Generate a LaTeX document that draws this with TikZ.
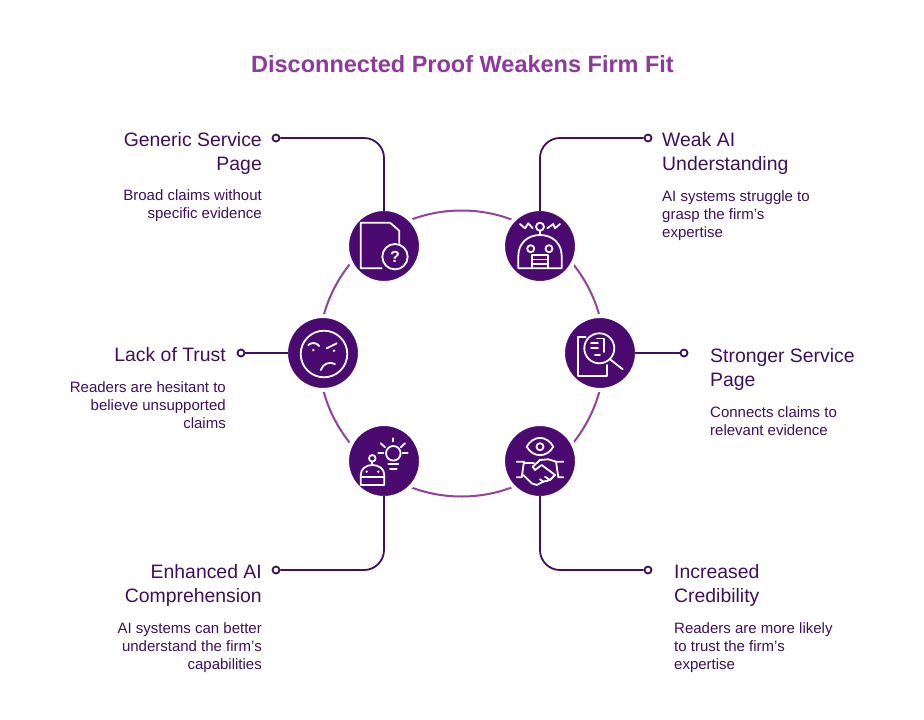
\documentclass[tikz,border=0pt]{standalone}
\usepackage{fontspec}
\setmainfont{Liberation Sans}
\usetikzlibrary{positioning}

\definecolor{titlepurple}{HTML}{8E3A9D}
\definecolor{ringpurple}{HTML}{8E4497}
\definecolor{hubpurple}{HTML}{4A0A70}
\definecolor{inkpurple}{HTML}{3F0F5C}

\tikzset{
    hub/.style={circle, fill=hubpurple, draw=white, line width=4pt, minimum size=74pt, inner sep=0pt, outer sep=0pt},
    enddot/.style={circle, fill=white, draw=inkpurple, line width=1.8pt, minimum size=7pt, inner sep=0pt},
    link/.style={draw=inkpurple, line width=1.8pt, rounded corners=20pt, shorten <=-2pt},
    head/.style={text=inkpurple, inner sep=0pt, font=\fontsize{19.4}{24}\selectfont},
    body/.style={text=inkpurple, inner sep=0pt, font=\fontsize{15}{18}\selectfont},
    glyph/.style={draw=white, line width=1.8pt, line cap=round, line join=round},
}

\begin{document}
\begin{tikzpicture}[x=1pt, y=-1pt]
    \useasboundingbox (0,0) rectangle (924,720);
    \fill[white] (0,0) rectangle (924,720);

    \node[text=titlepurple, font=\fontsize{23.5}{30}\selectfont\bfseries] (title) at (462.5,64) {Disconnected Proof Weakens Firm Fit};

    \draw[ringpurple, line width=2pt] (461.5,353.5) circle (143);

    \node[hub] (docHub) at (384,246) {};
    \node[hub] (robotHub) at (540,246) {};
    \node[hub] (faceHub) at (323,353) {};
    \node[hub] (searchHub) at (600,353) {};
    \node[hub] (ideaHub) at (384,461) {};
    \node[hub] (shakeHub) at (540,461) {};

    \node[enddot] (docDot) at (276,138) {};
    \node[enddot] (robotDot) at (648,138) {};
    \node[enddot] (faceDot) at (241,353) {};
    \node[enddot] (searchDot) at (684,353) {};
    \node[enddot] (ideaDot) at (276,570) {};
    \node[enddot] (shakeDot) at (648,570) {};

    \draw[link] (docHub) |- (docDot);
    \draw[link] (robotHub) |- (robotDot);
    \draw[link] (faceHub) -- (faceDot);
    \draw[link] (searchHub) -- (searchDot);
    \draw[link] (ideaHub) |- (ideaDot);
    \draw[link] (shakeHub) |- (shakeDot);

    % left texts
    \node[head, anchor=north east, align=right] (docHead) at (262,132) {Generic Service\\Page};
    \node[body, below=15pt of docHead.south east, anchor=north east, align=right] (docBody) {Broad claims without\\specific evidence};
    \node[head, anchor=north east, align=right] (faceHead) at (226,347) {Lack of Trust};
    \node[body, below=20pt of faceHead.south east, anchor=north east, align=right] (faceBody) {Readers are hesitant to\\believe unsupported\\claims};
    \node[head, anchor=north east, align=right] (ideaHead) at (262,564) {Enhanced AI\\Comprehension};
    \node[body, below=16pt of ideaHead.south east, anchor=north east, align=right] (ideaBody) {AI systems can better\\understand the firm's\\capabilities};

    % right texts
    \node[head, anchor=north west, align=left] (robotHead) at (662,132) {Weak AI\\Understanding};
    \node[body, below=16pt of robotHead.south west, anchor=north west, align=left] (robotBody) {AI systems struggle to\\grasp the firm's\\expertise};
    \node[head, anchor=north west, align=left] (searchHead) at (710,348) {Stronger Service\\Page};
    \node[body, below=16pt of searchHead.south west, anchor=north west, align=left] (searchBody) {Connects claims to\\relevant evidence};
    \node[head, anchor=north west, align=left] (shakeHead) at (674,564) {Increased\\Credibility};
    \node[body, below=16pt of shakeHead.south west, anchor=north west, align=left] (shakeBody) {Readers are more likely\\to trust the firm's\\expertise};

    % document with question
    \draw[glyph] (381.7,268.3) -- (360.7,268.3) -- (360.7,222.7) -- (390,222.7) -- (399.3,230.7) -- (399.3,243);
    \draw[glyph] (395,256.7) circle (12.7);
    \node[text=white, font=\fontsize{16}{16}\selectfont\bfseries] (docMark) at (395,256.7) {?};

    % robot with signals
    \draw[glyph] (540,226.7) circle (4);
    \draw[glyph] (540,230.7) -- (540,235);
    \draw[glyph] (518.3,268.3) -- (518.3,256) .. controls (518.3,243) and (528,235) .. (540,235) .. controls (552,235) and (561.7,243) .. (561.7,256) -- (561.7,268.3) -- cycle;
    \draw[glyph] (530.7,248.7) circle (3.5);
    \draw[glyph] (549,248.7) circle (3.5);
    \draw[glyph] (531.7,268.3) -- (531.7,255) -- (548.3,255) -- (548.3,268.3);
    \draw[glyph] (531.7,259.5) -- (548.3,259.5);
    \draw[glyph] (531.7,264) -- (548.3,264);
    \draw[glyph] (520,224) -- (525,228.3) -- (528.3,223.3) -- (532.7,228.3);
    \draw[glyph] (547.3,228.3) -- (553.3,224) -- (555,228.3) -- (560,224);

    % angry face
    \draw[glyph] (324,354) circle (23.3);
    \draw[glyph] (308.3,345) .. controls (311,342.5) and (316,342) .. (319.3,346);
    \draw[glyph] (326.7,348.3) -- (336.7,343.3);
    \fill[white] (313.3,350) circle (1.3);
    \fill[white] (334,350.7) circle (1.3);
    \draw[glyph] (320.7,370) .. controls (323,364) and (329,361) .. (335,364);

    % magnifier on page
    \draw[glyph] (585.7,336.7) -- (577.7,336.7) -- (577.7,376) -- (606.7,376) -- (606.7,365);
    \draw[glyph] (599.3,348.3) circle (15);
    \draw[glyph] (610,359.3) -- (622.7,369.3);
    \draw[glyph] (597,338.5) -- (604,338.5) -- (604,352);
    \draw[glyph] (591,342.7) -- (598,342.7);
    \draw[glyph] (591,348.3) -- (598,348.3);
    \draw[glyph] (595,355) -- (600,355);

    % robot with bulb
    \draw[glyph] (393.3,453.3) circle (7.3);
    \draw[glyph] (388.3,464) -- (398.3,464);
    \draw[glyph] (390,469) -- (396.7,469);
    \draw[glyph] (392.7,438.3) -- (392.7,441.5);
    \draw[glyph] (380.7,443.3) -- (385,447.3);
    \draw[glyph] (405,443.3) -- (400.7,447.3);
    \draw[glyph] (378.3,452.7) -- (383.3,452.7);
    \draw[glyph] (402.7,452.7) -- (407.7,452.7);
    \draw[glyph] (372.3,458.3) circle (3.3);
    \draw[glyph] (372.3,461.6) -- (372.3,465);
    \draw[glyph] (360.7,485) -- (360.7,475) .. controls (360.7,469) and (366,465) .. (372.3,465) .. controls (379,465) and (384.3,469) .. (384.3,475) -- (384.3,485) -- cycle;
    \draw[glyph] (360.7,477.3) -- (384.3,477.3);
    \fill[white] (366.7,471.7) circle (1.3);
    \fill[white] (378.3,471.7) circle (1.3);

    % eye with handshake
    \draw[glyph] (526.7,446.7) .. controls (533,435) and (547,435) .. (553.3,446.7) .. controls (547,458) and (533,458) .. (526.7,446.7) -- cycle;
    \draw[glyph] (540,446.7) circle (3.5);
    \draw[glyph] (516.7,461.7) -- (524,461.7) -- (521.7,477.3) -- (516.7,477.3);
    \draw[glyph] (563.3,461.7) -- (556,461.7) -- (558.3,477.3) -- (563.3,477.3);
    \draw[glyph] (556,461.7) -- (548.3,459.3) -- (540,460) -- (532.7,466.7) -- (535,470) -- (541.7,465) -- (555,475) -- (550,480) -- (543.3,481.7) -- (536.7,485) -- (531.7,483.3) -- (523.3,475);
    \draw[glyph] (524,462.7) -- (534,462.7);
    \draw[glyph] (545,476.7) -- (550,480);
    \draw[glyph] (540,479.3) -- (543.3,481.7);
\end{tikzpicture}
\end{document}
